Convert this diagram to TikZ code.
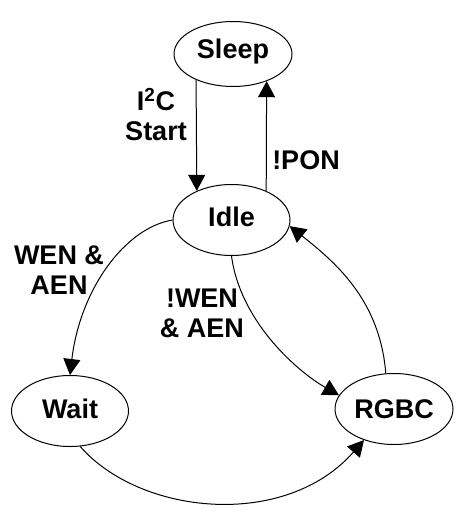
\documentclass[tikz,border=0pt]{standalone}
\usepackage{fontspec}
\setmainfont{Liberation Sans}
\usetikzlibrary{arrows.meta,shapes.geometric}
\begin{document}
\begin{tikzpicture}[x=1pt,y=-1pt,
  state/.style={ellipse,draw,line width=1pt,inner sep=0pt,minimum width=117pt,minimum height=71pt,
    font=\fontsize{27}{30}\selectfont\bfseries,text height=19pt},
  lbl/.style={font=\fontsize{27}{30}\selectfont\bfseries,align=center,inner sep=0pt},
  arr/.style={-{Triangle[length=16pt,width=17pt]},line width=1pt}]
\useasboundingbox (0,0) rectangle (468,524);
\node[state,minimum width=118pt,minimum height=65pt,text depth=10pt] (sleep) at (233,54) {Sleep};
\node[state,text depth=7pt] (idle) at (231.5,220) {Idle};
\node[state,text depth=4pt] (wait) at (70,411) {Wait};
\node[state,minimum width=118pt,text depth=1pt] (rgbc) at (394,409) {RGBC};

\node[lbl] (l1) at (156,115) {I\textsuperscript{2}C\\Start};
\node[lbl] (l2) at (306,160) {!PON};
\node[lbl] (l3) at (59,270) {WEN \&\\AEN};
\node[lbl] (l4) at (202,313) {!WEN\\\& AEN};

\draw[arr] (sleep.215) -- (idle.140);
\draw[arr] (idle.40) -- (sleep.-39);
\draw[arr] (idle.west) .. controls +(-48,8) and +(10,-85) .. (wait.north);
\draw[arr] (idle.south) .. controls (240,320) and (295,370) .. (rgbc.166);
\draw[arr] (rgbc.103) .. controls (380,300) and (335,262) .. (idle.-6);
\draw[arr] (wait.-74) .. controls (140,515) and (285,530) .. (rgbc.-134);
\end{tikzpicture}
\end{document}
